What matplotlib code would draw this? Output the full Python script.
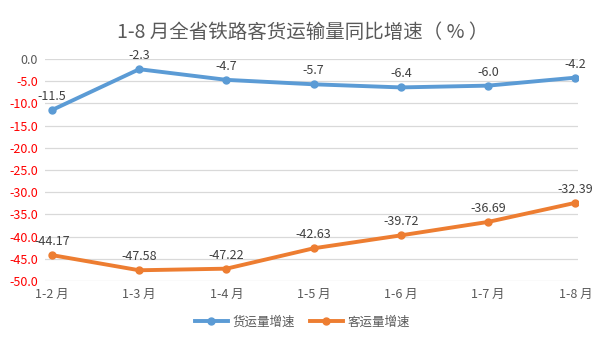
import matplotlib
matplotlib.use("Agg")
import matplotlib.pyplot as plt

plt.rcParams['font.family'] = ['Noto Sans CJK SC', 'DejaVu Sans']

months = ["1-2 月", "1-3 月", "1-4 月", "1-5 月", "1-6 月", "1-7 月", "1-8 月"]
freight = [-11.5, -2.3, -4.7, -5.7, -6.4, -6.0, -4.2]
passenger = [-44.17, -47.58, -47.22, -42.63, -39.72, -36.69, -32.39]
yticks = [0, -5, -10, -15, -20, -25, -30, -35, -40, -45, -50]

fig = plt.figure(figsize=(6.05, 3.4), dpi=100)
ax = fig.add_axes([0.0744, 0.1735, 0.881, 0.653])

x = list(range(len(months)))
ax.plot(x, freight, color="#5B9BD5", lw=2.8, marker="o", ms=5, label="货运量增速", zorder=3)
ax.plot(x, passenger, color="#ED7D31", lw=2.8, marker="o", ms=5, label="客运量增速", zorder=3)

for i, v in enumerate(freight):
    ax.annotate(f"{v:.1f}", (i, v), xytext=(0, 5), textcoords="offset points",
                ha="center", va="bottom", fontsize=9, color="#404040")
for i, v in enumerate(passenger):
    ax.annotate(f"{v:.2f}", (i, v), xytext=(0, 5), textcoords="offset points",
                ha="center", va="bottom", fontsize=9, color="#404040")

ax.set_xlim(-0.08, 6.03)
ax.set_ylim(-50, 0)
ax.set_yticks(yticks)
ax.set_yticklabels([f"{t:.1f}" for t in yticks], fontsize=9)
for lbl, t in zip(ax.get_yticklabels(), yticks):
    lbl.set_color("#595959" if t == 0 else "red")
ax.set_xticks(x)
ax.set_xticklabels(months, fontsize=9, color="#595959")
ax.tick_params(length=0, pad=5)
ax.grid(axis="y", color="#D9D9D9", lw=0.9)
ax.set_axisbelow(True)
for s in ax.spines.values():
    s.set_visible(False)

fig.suptitle("1-8 月全省铁路客货运输量同比增速（ % ）", y=0.935, fontsize=14, color="#595959")
fig.legend(loc="lower center", bbox_to_anchor=(0.5, 0.0), ncol=2, frameon=False,
           fontsize=9, labelcolor="#595959", handlelength=2.6, handletextpad=0.4,
           columnspacing=1.2)

fig.savefig("out.png", dpi=100)
